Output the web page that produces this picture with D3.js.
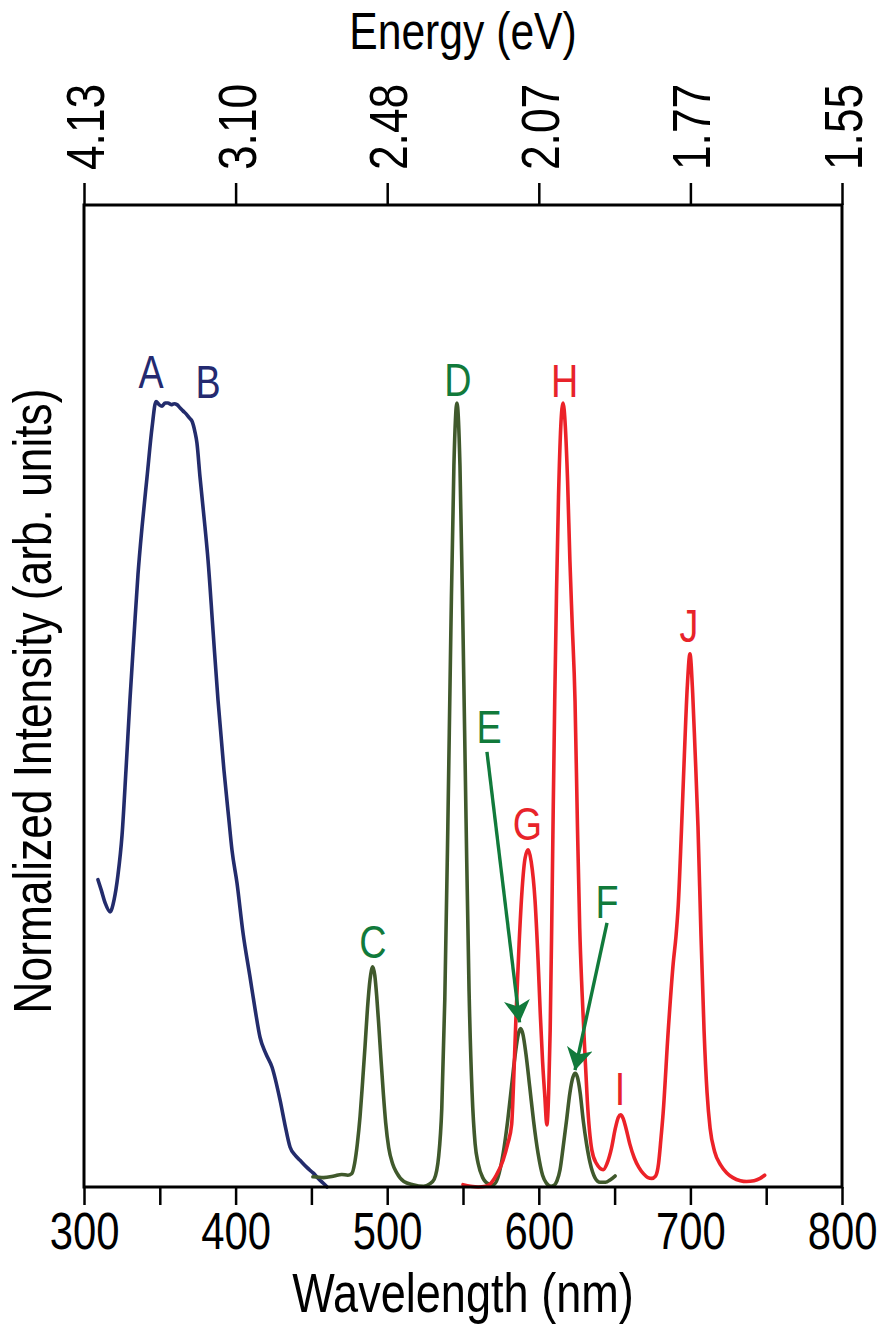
<!DOCTYPE html>
<html>
<head>
<meta charset="utf-8">
<script src="https://cdn.jsdelivr.net/npm/d3@7"></script>
<style>
  html, body { margin: 0; padding: 0; background: #fff; }
  svg { display: block; }
  text { font-family: "Liberation Sans", Arial, Helvetica, sans-serif; }
</style>
</head>
<body>
<svg id="chart" width="881" height="1324"></svg>
<script>
// Wavelength ticks (nm) on the bottom axis, energy labels (eV) on the top axis
const wavelengthTicks = [300, 350, 400, 450, 500, 550, 600, 650, 700, 750, 800];
const wavelengthLabels = ["300", "", "400", "", "500", "", "600", "", "700", "", "800"];
const energyTickNm = [300, 400, 500, 600, 700, 800];
const energyLabels = ["4.13", "3.10", "2.48", "2.07", "1.77", "1.55"];

// Blue spectrum (A, B): [wavelength nm, normalized intensity]
const blueSpectrum = [
  [309.2, 0.392], [311.5, 0.378], [314, 0.362], [317.2, 0.351], [319.8, 0.366],
  [322.4, 0.398], [325.1, 0.449], [327.7, 0.532], [330.3, 0.621], [333.0, 0.704],
  [335.6, 0.781], [338.3, 0.842], [341.6, 0.906], [344.9, 0.969], [347.5, 1.002],
  [349.5, 0.998], [351.5, 0.996], [353.5, 1.000], [355.4, 1.000], [357.5, 0.998],
  [359.5, 0.999], [361.3, 0.998], [363.3, 0.994], [365.3, 0.990], [367.9, 0.985],
  [369.5, 0.981], [371.2, 0.977], [373.2, 0.963], [374.5, 0.949], [376.5, 0.906],
  [379.8, 0.842], [381.8, 0.800], [385.1, 0.710], [388.4, 0.621], [392.3, 0.532],
  [395.6, 0.468], [397.6, 0.430], [400.9, 0.388], [404.9, 0.324], [409.5, 0.268],
  [413, 0.225], [416.1, 0.191], [420, 0.170], [424.0, 0.153], [429.3, 0.111],
  [432.5, 0.080], [435.9, 0.051], [439.5, 0.040], [442.5, 0.034], [447, 0.025],
  [451.1, 0.018], [455, 0.010], [457.7, 0.005], [460.3, 0.000]
];

// Green spectrum (C, D, E, F)
const greenSpectrum = [
  [451, 0.013], [458, 0.012], [465, 0.014], [470, 0.016], [474, 0.015],
  [476.6, 0.017], [478.5, 0.030], [480.3, 0.055], [482.1, 0.090], [483.8, 0.135],
  [485.4, 0.180], [487, 0.228], [488.7, 0.265], [490.5, 0.281], [491.8, 0.270],
  [493.1, 0.243], [494.5, 0.205], [496, 0.160], [497.5, 0.118], [499, 0.082],
  [501, 0.050], [503.5, 0.030], [506.3, 0.018], [511, 0.007], [517, 0.003],
  [524, 0.001], [528, 0.004],
  [531, 0.010], [534, 0.040], [536, 0.100], [538, 0.240], [540, 0.460],
  [542, 0.710], [544, 0.920], [546, 1.000], [548, 0.920], [550, 0.710],
  [552, 0.470], [554, 0.250], [556, 0.120], [558, 0.055], [560, 0.030],
  [563, 0.012], [567, 0.004], [570, 0.003], [573, 0.012], [576.5, 0.043],
  [579.5, 0.085], [582, 0.128], [584.5, 0.170], [586.5, 0.195], [588, 0.202],
  [589.5, 0.195], [591.5, 0.170], [594, 0.128], [596.5, 0.085], [599.5, 0.043],
  [602.5, 0.015], [605, 0.005], [608, 0.001], [610, 0.002], [612, 0.008],
  [614, 0.022], [616, 0.050], [618.3, 0.085], [620.5, 0.120], [622.5, 0.140],
  [624, 0.145], [625.5, 0.140], [627.3, 0.120], [629.3, 0.085], [631.5, 0.055],
  [633.8, 0.031], [637, 0.012], [640.4, 0.006], [644, 0.006], [647, 0.009],
  [650.3, 0.014]
];

// Red spectrum (G, H, I, J)
const redSpectrum = [
  [550, 0.003], [555, 0.001], [560, 0.000], [565, 0.001], [568, 0.004],
  [572, 0.015], [576.4, 0.034], [579.5, 0.055], [582.1, 0.080], [583.5, 0.140],
  [585, 0.220], [587, 0.310], [589, 0.380], [591, 0.420], [593, 0.430],
  [595, 0.415], [597.5, 0.366], [599.5, 0.290], [601, 0.220], [602.5, 0.160],
  [604, 0.115], [605.3, 0.079], [606.5, 0.120], [607.5, 0.200], [608.5, 0.330],
  [609.5, 0.480], [610.5, 0.620], [611.7, 0.760], [613, 0.880], [614.5, 0.970],
  [616, 1.000], [617.5, 0.970], [619, 0.900], [620.5, 0.800], [622, 0.720],
  [623.9, 0.620], [625.5, 0.460], [627, 0.330], [628.5, 0.250], [630.3, 0.175],
  [632, 0.110], [635, 0.047], [638, 0.030], [642.5, 0.022], [645, 0.030],
  [648, 0.050], [650.5, 0.075], [652.5, 0.089], [654, 0.092], [655.5, 0.088],
  [657.5, 0.075], [660, 0.055], [663, 0.037], [666, 0.025], [669, 0.017],
  [672, 0.012], [674.5, 0.011], [677, 0.014], [679, 0.030], [680.5, 0.060],
  [682, 0.094], [685.4, 0.200], [688.7, 0.286], [690.5, 0.320], [692, 0.360],
  [694, 0.450], [696, 0.550], [698, 0.640], [699.7, 0.680], [701.5, 0.630],
  [703, 0.560], [705, 0.460], [707, 0.320], [709, 0.200], [711, 0.120],
  [713, 0.075], [716, 0.045], [720, 0.028], [724, 0.018], [728, 0.012],
  [733, 0.008], [737, 0.007], [742, 0.008], [746, 0.011], [749, 0.015]
];

// Peak letters: [text, wavelength nm, intensity at letter baseline, group]
const peakLabels = [
  ["A", 344.2, 1.019, "blue"], ["B", 381.8, 1.006, "blue"],
  ["C", 490.6, 0.292, "green"], ["D", 546.7, 1.009, "green"],
  ["E", 567.2, 0.566, "green"], ["F", 645.0, 0.343, "green"],
  ["G", 592.5, 0.443, "red"], ["H", 617.0, 1.008, "red"],
  ["I", 653.6, 0.105, "red"], ["J", 699.0, 0.695, "red"]
];

// Arrows from letters E and F to their peaks: [fromNm, fromI, toNm, toI]
const peakArrows = [
  [565.8, 0.555, 587.3, 0.210],
  [645.0, 0.337, 623.9, 0.149]
];

const lineColors = { blue: "#232c6c", green: "#40592c", red: "#ec2228" };
const labelColors = { blue: "#242a70", green: "#117a3b", red: "#e8232a" };

// Condensed lettering: glyphs are squeezed horizontally to this fraction
const condense = 0.82;

const margin = { left: 84, right: 39, top: 205, bottom: 137 };
const W = 881, H = 1324;
const svg = d3.select("#chart");

const x = d3.scaleLinear().domain([300, 800]).range([margin.left, W - margin.right]);
const y = d3.scaleLinear().domain([0, 1.2526]).range([H - margin.bottom, margin.top]);

// Spectra
const line = d3.line()
  .x(d => x(d[0]))
  .y(d => y(d[1]))
  .curve(d3.curveMonotoneX);

[["blue", blueSpectrum], ["green", greenSpectrum], ["red", redSpectrum]].forEach(([key, data]) => {
  svg.append("path")
    .datum(data)
    .attr("fill", "none")
    .attr("stroke", lineColors[key])
    .attr("stroke-width", 3.6)
    .attr("stroke-linejoin", "round")
    .attr("stroke-linecap", "round")
    .attr("d", line);
});

// Arrowhead marker
svg.append("defs").append("marker")
  .attr("id", "arrowhead")
  .attr("viewBox", "0 0 22 26")
  .attr("refX", 22).attr("refY", 13)
  .attr("markerWidth", 22).attr("markerHeight", 26)
  .attr("markerUnits", "userSpaceOnUse")
  .attr("orient", "auto")
  .append("path")
  .attr("d", "M0,0 L22,13 L0,26 L6,13 Z")
  .attr("fill", labelColors.green);

svg.append("g").selectAll("line")
  .data(peakArrows)
  .join("line")
  .attr("x1", d => x(d[0])).attr("y1", d => y(d[1]))
  .attr("x2", d => x(d[2])).attr("y2", d => y(d[3]))
  .attr("stroke", labelColors.green)
  .attr("stroke-width", 3.4)
  .attr("marker-end", "url(#arrowhead)");

// Peak letters
svg.append("g").selectAll("text")
  .data(peakLabels)
  .join("text")
  .attr("x", d => x(d[1]))
  .attr("y", d => y(d[2]))
  .attr("text-anchor", "middle")
  .attr("font-size", 46)
  .attr("fill", d => labelColors[d[3]])
  .text(d => d[0]);

// Frame
svg.append("rect")
  .attr("x", x(300)).attr("y", y.range()[1])
  .attr("width", x(800) - x(300))
  .attr("height", y.range()[0] - y.range()[1])
  .attr("fill", "none")
  .attr("stroke", "#000")
  .attr("stroke-width", 3);

// Bottom axis (wavelength)
const bottomAxis = d3.axisBottom(x)
  .tickValues(wavelengthTicks)
  .tickSize(18)
  .tickSizeOuter(0)
  .tickPadding(8)
  .tickFormat((d, i) => wavelengthLabels[i]);

const gb = svg.append("g")
  .attr("transform", `translate(0,${y(0)})`)
  .call(bottomAxis);
gb.select(".domain").remove();
gb.selectAll(".tick line").attr("stroke", "#000").attr("stroke-width", 2.5);
gb.selectAll(".tick text")
  .attr("font-family", null)
  .attr("font-size", 51)
  .attr("fill", "#000");

// Top axis (energy)
const topAxis = d3.axisTop(x)
  .tickValues(energyTickNm)
  .tickSize(22)
  .tickSizeOuter(0)
  .tickFormat((d, i) => energyLabels[i]);

const gt = svg.append("g")
  .attr("transform", `translate(0,${y.range()[1]})`)
  .call(topAxis);
gt.select(".domain").remove();
gt.selectAll(".tick line").attr("stroke", "#000").attr("stroke-width", 2.5);
gt.selectAll(".tick text")
  .attr("font-family", null)
  .attr("font-size", 54)
  .attr("fill", "#000")
  .attr("text-anchor", "start")
  .attr("dy", "0.36em")
  .attr("x", 0)
  .attr("y", 0)
  .attr("transform", "translate(0,-35) rotate(-90)");

// Axis titles
svg.append("text")
  .attr("x", (x(300) + x(800)) / 2)
  .attr("y", 1312)
  .attr("text-anchor", "middle")
  .attr("font-size", 55)
  .text("Wavelength (nm)");

svg.append("text")
  .attr("x", (x(300) + x(800)) / 2)
  .attr("y", 49)
  .attr("text-anchor", "middle")
  .attr("font-size", 52)
  .text("Energy (eV)");

svg.append("text")
  .attr("transform", `translate(51,${(y.range()[0] + y.range()[1]) / 2 + 5}) rotate(-90)`)
  .attr("text-anchor", "middle")
  .attr("font-size", 54)
  .text("Normalized Intensity (arb. units)");

// Squeeze every label horizontally (in its own reading direction) about its anchor
svg.selectAll("text").each(function () {
  const ax = +(this.getAttribute("x") || 0);
  const ay = +(this.getAttribute("y") || 0);
  const t = this.getAttribute("transform") || "";
  this.setAttribute("transform",
    `${t} translate(${ax},${ay}) scale(${condense},1) translate(${-ax},${-ay})`.trim());
});
</script>
</body>
</html>
